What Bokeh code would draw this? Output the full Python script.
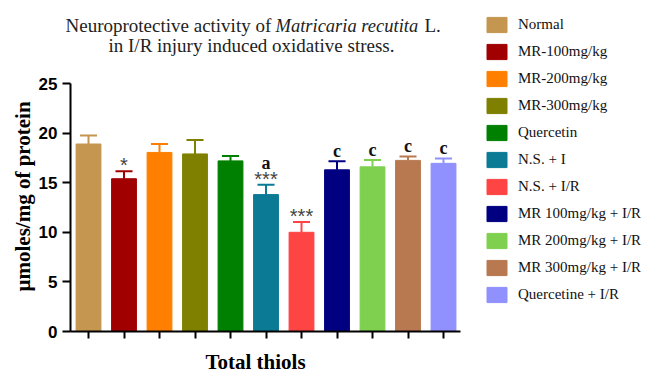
import math
from bokeh.plotting import figure
from bokeh.models import ColumnDataSource, Range1d, FixedTicker, Label
from bokeh.embed import file_html
from bokeh.resources import INLINE

# Groups, means and SEM for total thiols (µmoles/mg of protein)
groups = ["Normal", "MR-100mg/kg", "MR-200mg/kg", "MR-300mg/kg", "Quercetin",
          "N.S. + I", "N.S. + I/R", "MR 100mg/kg + I/R", "MR 200mg/kg + I/R",
          "MR 300mg/kg + I/R", "Quercetine + I/R"]
means = [18.9, 15.4, 18.05, 17.9, 17.2, 13.8, 10.0, 16.3, 16.6, 17.25, 16.95]
sems = [0.85, 0.75, 0.85, 1.4, 0.5, 1.0, 1.05, 0.85, 0.7, 0.4, 0.5]
stars = ["", "*", "", "", "", "***", "***", "", "", "", ""]
letters = ["", "", "", "", "", "a", "", "c", "c", "c", "c"]
colors = ["#C49650", "#A00000", "#FF8000", "#808000", "#008000", "#0B7A94",
          "#FF4444", "#000080", "#80D050", "#B87850", "#9090FF"]
y_ticks = [0, 5, 10, 15, 20, 25]

xs = list(range(1, len(groups) + 1))
tops = [m + s for m, s in zip(means, sems)]
# letters sit higher when a star row is drawn beneath them
letter_off = [-22 if s else -10 for s in stars]

src = ColumnDataSource(dict(
    x=xs, group=groups, mean=means, top=tops, color=colors,
    stars=stars, letters=letters, letter_off=letter_off,
    cap0=[x - 0.24 for x in xs], cap1=[x + 0.24 for x in xs],
))

# The frame fills the canvas; axes are pinned at x=0.493 / y=0 and bounded,
# leaving room for the title, legend and axis titles around the bars.
p = figure(width=651, height=372, output_backend="svg", toolbar_location=None,
           x_range=Range1d(-1.479, 16.859), y_range=Range1d(-4.133, 33.367),
           min_border=0)
p.outline_line_color = None
p.grid.visible = False
p.background_fill_color = "white"
p.border_fill_color = "white"

p.vbar(x="x", top="mean", width=0.70, source=src,
       fill_color="color", line_color="color", line_width=1,
       legend_field="group")
# upper error bars: stem + cap
p.segment(x0="x", y0="mean", x1="x", y1="top", source=src,
          line_color="color", line_width=2)
p.segment(x0="cap0", y0="top", x1="cap1", y1="top", source=src,
          line_color="color", line_width=2)

p.text(x="x", y="top", text="stars", source=src, y_offset=-6,
       text_align="center", text_baseline="alphabetic",
       text_font={"value": "Liberation Sans"}, text_font_size="20px",
       text_color="#444444")
p.text(x="x", y="top", text="letters", source=src, y_offset="letter_off",
       text_align="center", text_baseline="alphabetic",
       text_font={"value": "Liberation Serif"}, text_font_size="18px",
       text_font_style="bold", text_color="#111111")

# axes
xa, ya = p.xaxis[0], p.yaxis[0]
for ax in (xa, ya):
    ax.axis_line_width = 2
    ax.axis_line_color = "black"
    ax.major_tick_line_width = 2
    ax.major_tick_line_color = "black"
    ax.major_tick_in = 0
    ax.minor_tick_line_color = None

ya.fixed_location = 0.493
ya.bounds = (0, 25)
ya.ticker = FixedTicker(ticks=y_ticks)
ya.major_tick_out = 8
ya.major_label_standoff = 5
ya.major_label_text_font = "Liberation Sans"
ya.major_label_text_font_style = "bold"
ya.major_label_text_font_size = "17px"
ya.major_label_text_color = "black"

xa.fixed_location = 0
xa.bounds = (0.493, 11.48)
xa.ticker = FixedTicker(ticks=xs)
xa.major_tick_out = 7
xa.major_label_overrides = {x: "" for x in xs}

# legend
legend = p.legend[0]
legend.location = (484, 68)
legend.glyph_width = 25
legend.glyph_height = 19
legend.label_height = 20
legend.spacing = 7
legend.padding = 0
legend.margin = 0
legend.label_standoff = 9
legend.label_text_font = "Liberation Serif"
legend.label_text_font_size = "15px"
legend.label_text_color = "#111111"
legend.border_line_color = None
legend.background_fill_alpha = 0

serif = "Liberation Serif"
title_parts = [
    ("Neuroprotective activity of", 65, 347, "normal", "19px"),
    ("Matricaria recutita", 275, 347, "italic", "18.5px"),
    ("L.", 424, 347, "normal", "19px"),
]
for txt, x, y, style, size in title_parts:
    p.add_layout(Label(x=x, y=y, x_units="screen", y_units="screen", text=txt,
                       text_font=serif, text_font_size=size, text_font_style=style,
                       text_baseline="alphabetic", text_align="left", text_color="#222222"))
p.add_layout(Label(x=251, y=327, x_units="screen", y_units="screen",
                   text="in I/R injury induced oxidative stress.",
                   text_font=serif, text_font_size="19px", text_baseline="alphabetic",
                   text_align="center", text_color="#222222"))

p.add_layout(Label(x=22, y=176, x_units="screen", y_units="screen",
                   text="µmoles/mg of protein", angle=math.pi / 2,
                   text_font=serif, text_font_size="21px", text_font_style="bold",
                   text_align="center", text_baseline="middle", text_color="black"))
p.add_layout(Label(x=255, y=11, x_units="screen", y_units="screen",
                   text="Total thiols",
                   text_font=serif, text_font_size="21px", text_font_style="bold",
                   text_align="center", text_baseline="alphabetic", text_color="black"))

open("out.html", "w").write(file_html(p, INLINE))
